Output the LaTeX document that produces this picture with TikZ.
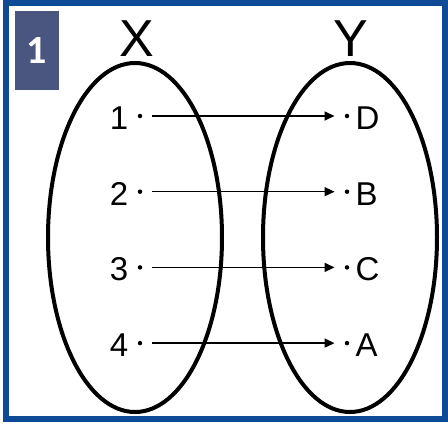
\documentclass[tikz,border=0pt]{standalone}
\usepackage{fontspec}
\setmainfont{Liberation Sans}
\newfontfamily\badgefont{Carlito}
\usetikzlibrary{arrows.meta,positioning}
\definecolor{frameblue}{RGB}{14,74,150}
\definecolor{badgeblue}{RGB}{74,86,128}

\begin{document}
\begin{tikzpicture}[x=1pt, y=-1pt,
    node distance=9pt,
    setline/.style={line width=4pt},
    dot/.style={circle, fill, inner sep=0pt, minimum size=4.5pt},
    elem/.style={inner sep=0pt, font=\fontsize{33}{33}\selectfont},
    settitle/.style={inner sep=0pt, font=\fontsize{52}{52}\selectfont},
    link/.style={-{Triangle[length=10pt, width=9pt]}, line width=1.5pt, shorten <=10pt, shorten >=10pt}
]
\useasboundingbox (0,0) rectangle (448,424);
\draw[frameblue, line width=6pt] (6,3) rectangle (445,418.5);
\node[fill=badgeblue, minimum width=44pt, minimum height=79pt, text=white, font=\badgefont\bfseries\fontsize{40}{40}\selectfont] (badge) at (37,50.5) {1};

% the two sets
\node[settitle] (setx) at (137,38.5) {X};
\node[settitle] (sety) at (351,38.5) {Y};
\draw[setline] (135,237.5) ellipse [x radius=87, y radius=174.5];
\draw[setline] (350,237.5) ellipse [x radius=87, y radius=174.5];

% elements and mapping
\foreach \n/\m [count=\i] in {1/D,2/B,3/C,4/A} {
  \node[dot] (x\i) at (140,40.3+75.7*\i) {};
  \node[dot] (y\i) at (347,40.3+75.7*\i) {};
  \node[elem, left=of x\i, yshift=-2pt] (nx\i) {\n};
  \node[elem, right=6pt of y\i, yshift=-2pt] (ny\i) {\m};
  \draw[link] (x\i) -- (y\i);
}
\end{tikzpicture}
\end{document}
